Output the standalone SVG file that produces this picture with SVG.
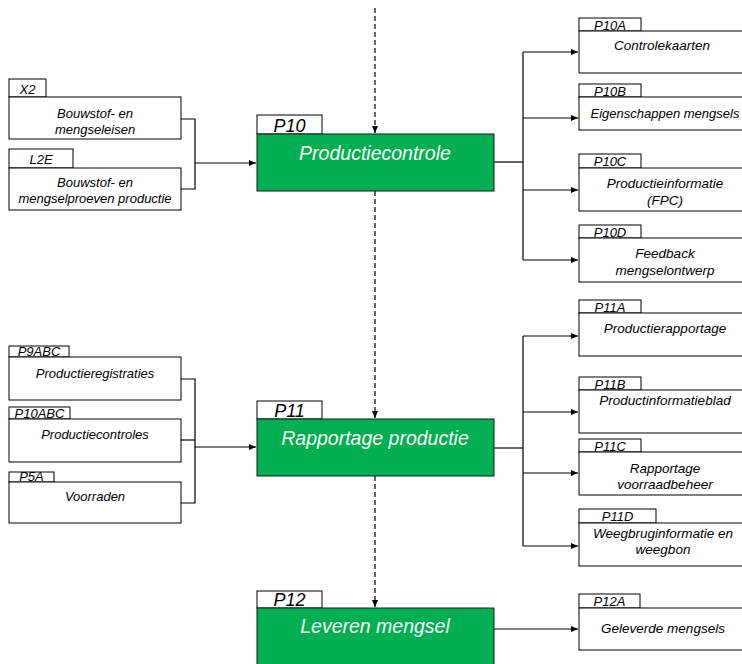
<svg xmlns="http://www.w3.org/2000/svg" width="742" height="664" viewBox="0 0 742 664">
<style>
  .box{fill:#fff;stroke:#000;stroke-width:1}
  .proc{fill:#00B050;stroke:#1a1a1a;stroke-width:1}
  .t{font-family:"Liberation Sans",Arial,sans-serif;font-style:italic;font-size:13px;fill:#000;text-anchor:middle}
  .tr{font-family:"Liberation Sans",Arial,sans-serif;font-style:italic;font-size:13.5px;fill:#000;text-anchor:middle}
  .tb{font-family:"Liberation Sans",Arial,sans-serif;font-style:italic;font-size:18px;fill:#000;text-anchor:middle}
  .tw{font-family:"Liberation Sans",Arial,sans-serif;font-style:italic;font-size:19.5px;fill:#fff;text-anchor:middle}
  .c{fill:none;stroke:#000;stroke-width:1.2}
  .d{fill:none;stroke:#000;stroke-width:1.2;stroke-dasharray:5,3}
</style>
<defs>
  <marker id="ah" markerUnits="userSpaceOnUse" markerWidth="8" markerHeight="8" refX="7" refY="4" orient="auto">
    <path d="M0,1 L7,4 L0,7 Z" fill="#000"/>
  </marker>
</defs>
<rect width="742" height="664" fill="#fff"/>

<g id="connectors">
  <path class="d" d="M375,8 V133" marker-end="url(#ah)"/>
  <path class="d" d="M375,191 V418" marker-end="url(#ah)"/>
  <path class="d" d="M375,476 V607" marker-end="url(#ah)"/>
  <path class="c" d="M181,119 H195 V189 H181"/>
  <path class="c" d="M195,163 H256" marker-end="url(#ah)"/>
  <path class="c" d="M494,162 H523"/>
  <path class="c" d="M523,52 V260"/>
  <path class="c" d="M523,52 H578" marker-end="url(#ah)"/>
  <path class="c" d="M523,118 H578" marker-end="url(#ah)"/>
  <path class="c" d="M523,190 H578" marker-end="url(#ah)"/>
  <path class="c" d="M523,260 H578" marker-end="url(#ah)"/>
  <path class="c" d="M181,379 H195 V503 H181"/>
  <path class="c" d="M181,440 H195"/>
  <path class="c" d="M195,447 H256" marker-end="url(#ah)"/>
  <path class="c" d="M494,448 H523"/>
  <path class="c" d="M523,336 V546"/>
  <path class="c" d="M523,336 H578" marker-end="url(#ah)"/>
  <path class="c" d="M523,412 H578" marker-end="url(#ah)"/>
  <path class="c" d="M523,473 H578" marker-end="url(#ah)"/>
  <path class="c" d="M523,546 H578" marker-end="url(#ah)"/>
  <path class="c" d="M494,629 H578" marker-end="url(#ah)"/>
</g>

<g id="X2">
  <rect class="box" x="9" y="79" width="37" height="18"/>
  <text class="t" x="27.5" y="94">X2</text>
  <rect class="box" x="9" y="97" width="172" height="42"/>
  <text class="t" x="95" y="118">Bouwstof- en</text>
  <text class="t" x="95" y="134">mengseleisen</text>
</g>
<g id="L2E">
  <rect class="box" x="9" y="149" width="64" height="19"/>
  <text class="t" x="41" y="164">L2E</text>
  <rect class="box" x="9" y="168" width="172" height="42"/>
  <text class="t" x="95" y="187">Bouwstof- en</text>
  <text class="t" x="95" y="203">mengselproeven productie</text>
</g>

<g id="P10">
  <rect class="box" x="257" y="115" width="65" height="19"/>
  <text class="tb" x="289.5" y="132">P10</text>
  <rect class="proc" x="257" y="134" width="237" height="57"/>
  <text class="tw" x="375" y="160">Productiecontrole</text>
</g>

<g id="P10A">
  <rect class="box" x="579" y="18" width="62" height="13"/>
  <text class="t" x="610" y="29.5">P10A</text>
  <rect class="box" x="579" y="31" width="172" height="42"/>
  <text class="tr" x="662" y="50">Controlekaarten</text>
</g>
<g id="P10B">
  <rect class="box" x="579" y="84" width="62" height="13"/>
  <text class="t" x="610" y="95.5">P10B</text>
  <rect class="box" x="579" y="97" width="172" height="33"/>
  <text class="t" x="665" y="118">Eigenschappen mengsels</text>
</g>
<g id="P10C">
  <rect class="box" x="579" y="154" width="62" height="14"/>
  <text class="t" x="610" y="166">P10C</text>
  <rect class="box" x="579" y="168" width="172" height="43"/>
  <text class="tr" x="665" y="188">Productieinformatie</text>
  <text class="tr" x="665" y="205">(FPC)</text>
</g>
<g id="P10D">
  <rect class="box" x="579" y="225" width="62" height="13"/>
  <text class="t" x="610" y="236.5">P10D</text>
  <rect class="box" x="579" y="238" width="172" height="44"/>
  <text class="tr" x="665" y="258">Feedback</text>
  <text class="tr" x="665" y="275">mengselontwerp</text>
</g>

<g id="P9ABC">
  <rect class="box" x="9" y="346" width="60" height="11"/>
  <text class="t" x="39" y="356">P9ABC</text>
  <rect class="box" x="9" y="357" width="172" height="43"/>
  <text class="t" x="95" y="378">Productieregistraties</text>
</g>
<g id="P10ABC">
  <rect class="box" x="9" y="407" width="61" height="12"/>
  <text class="t" x="39.5" y="418">P10ABC</text>
  <rect class="box" x="9" y="419" width="172" height="43"/>
  <text class="t" x="95" y="439">Productiecontroles</text>
</g>
<g id="P5A">
  <rect class="box" x="9" y="472" width="45" height="10"/>
  <text class="t" x="31.5" y="481">P5A</text>
  <rect class="box" x="9" y="482" width="172" height="41"/>
  <text class="t" x="95" y="501">Voorraden</text>
</g>

<g id="P11">
  <rect class="box" x="257" y="401" width="65" height="18"/>
  <text class="tb" x="289.5" y="417">P11</text>
  <rect class="proc" x="257" y="419" width="237" height="57"/>
  <text class="tw" x="375" y="445">Rapportage productie</text>
</g>

<g id="P11A">
  <rect class="box" x="579" y="300" width="62" height="13"/>
  <text class="t" x="610" y="311.5">P11A</text>
  <rect class="box" x="579" y="313" width="172" height="43"/>
  <text class="tr" x="665" y="333">Productierapportage</text>
</g>
<g id="P11B">
  <rect class="box" x="579" y="377" width="62" height="13"/>
  <text class="t" x="610" y="388.5">P11B</text>
  <rect class="box" x="579" y="390" width="172" height="43"/>
  <text class="tr" x="665" y="405">Productinformatieblad</text>
</g>
<g id="P11C">
  <rect class="box" x="579" y="439" width="62" height="13"/>
  <text class="t" x="610" y="450.5">P11C</text>
  <rect class="box" x="579" y="452" width="172" height="43"/>
  <text class="tr" x="665" y="473">Rapportage</text>
  <text class="tr" x="665" y="489">voorraadbeheer</text>
</g>
<g id="P11D">
  <rect class="box" x="579" y="509" width="77" height="14"/>
  <text class="t" x="617.5" y="521">P11D</text>
  <rect class="box" x="579" y="523" width="172" height="43"/>
  <text class="tr" x="663" y="538">Weegbruginformatie en</text>
  <text class="tr" x="663" y="554">weegbon</text>
</g>

<g id="P12">
  <rect class="box" x="257" y="591" width="65" height="17"/>
  <text class="tb" x="289.5" y="606">P12</text>
  <rect class="proc" x="257" y="608" width="237" height="70"/>
  <text class="tw" x="375" y="633">Leveren mengsel</text>
</g>
<g id="P12A">
  <rect class="box" x="579" y="594" width="61" height="14"/>
  <text class="t" x="609.5" y="606">P12A</text>
  <rect class="box" x="579" y="608" width="172" height="42"/>
  <text class="tr" x="663" y="633">Geleverde mengsels</text>
</g>
</svg>
